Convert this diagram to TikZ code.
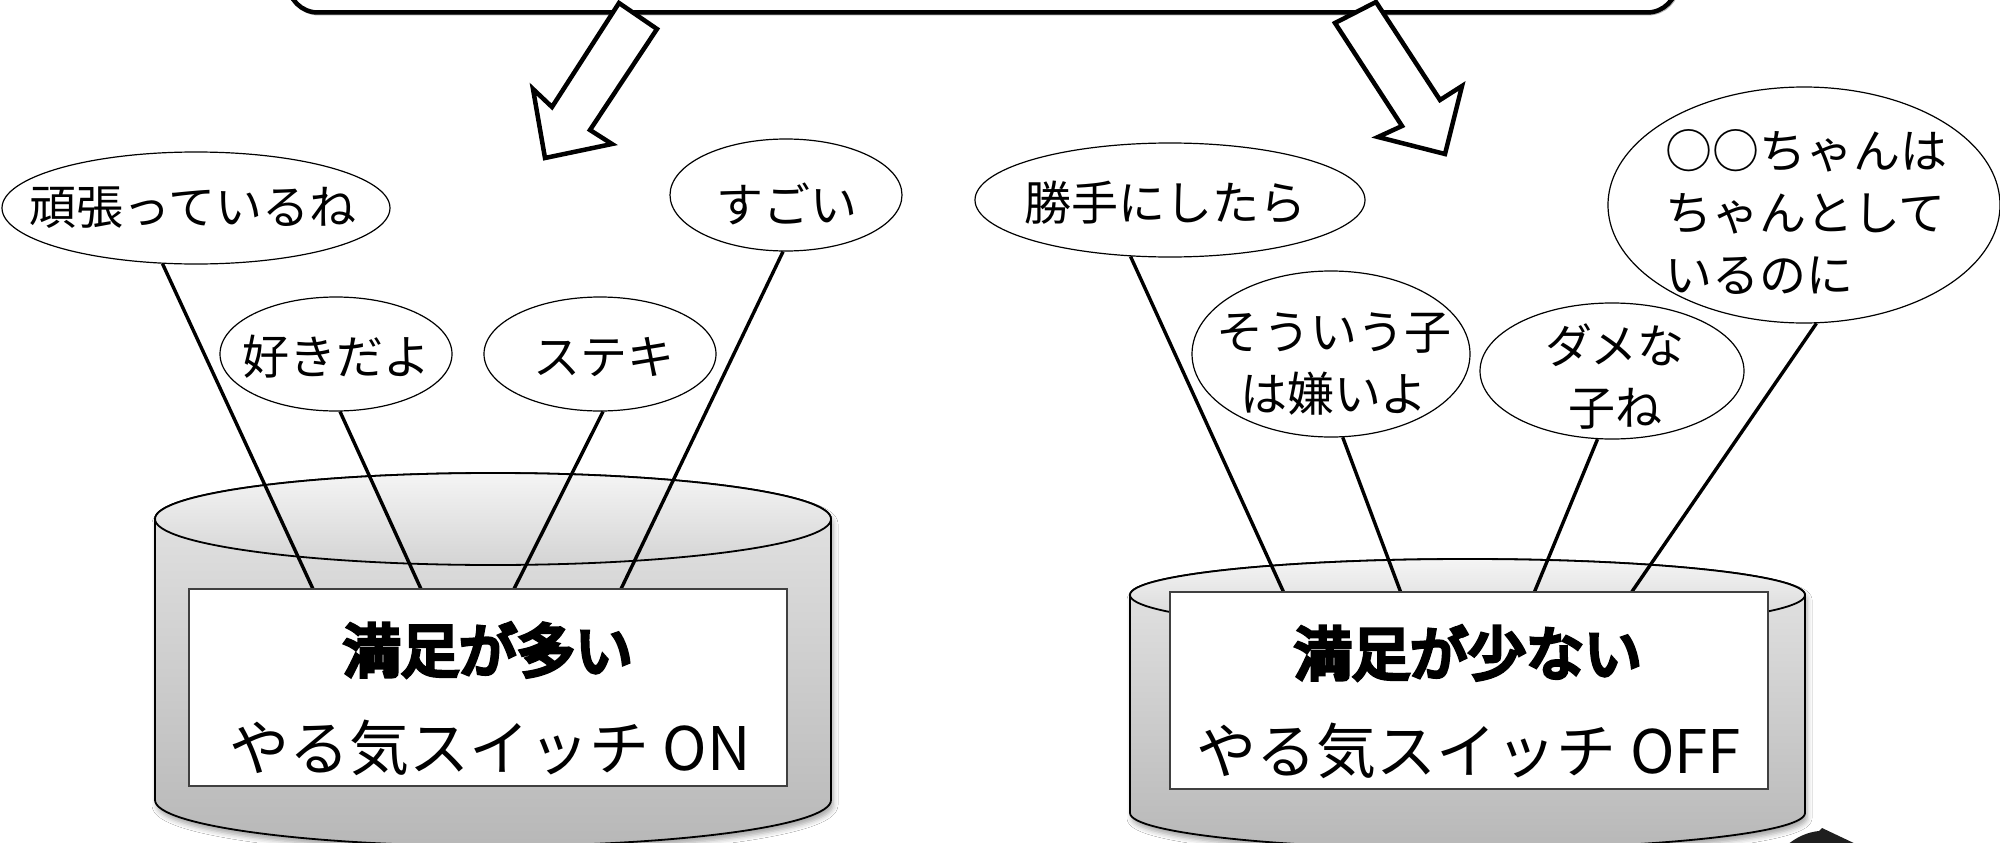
\documentclass[tikz,border=0pt]{standalone}
\usepackage{fontspec}
\usetikzlibrary{shapes.geometric,shadows.blur}
\newfontfamily\jp{Noto Sans CJK JP}
\newfontfamily\jpheavy[FakeBold=7]{Noto Sans CJK JP}
\definecolor{cylT}{gray}{0.90}
\definecolor{cylB}{gray}{0.72}
\definecolor{ellT}{gray}{0.96}
\definecolor{ellB}{gray}{0.83}
\begin{document}
\begin{tikzpicture}[x=1pt,y=-1pt,
  bubble/.style={ellipse, draw, line width=1.2pt, fill=white, inner sep=0pt},
  btxt/.style={inner sep=0pt, font=\jp\fontsize{47pt}{62pt}\selectfont, align=center},
  conn/.style={line width=3.4pt},
  cylline/.style={draw=black, line width=1.8pt},
  labelbox/.style={rectangle, draw=black!75, line width=1.3pt, fill=white, inner sep=0pt, minimum width=598pt, minimum height=197pt},
  ltitle/.style={inner sep=0pt, font=\jpheavy\fontsize{58pt}{60pt}\selectfont},
  lsub/.style={inner sep=0pt, font=\jp\fontsize{60pt}{62pt}\selectfont},
  blockarrow/.style={draw=black, fill=white, line width=4.5pt, line join=miter},
  topbox/.style={rectangle, draw=black, line width=4.5pt, rounded corners=30pt, inner sep=0pt, minimum width=1389pt, minimum height=200pt}
]
\useasboundingbox (0,0) rectangle (2000,843);
\clip (0,0) rectangle (2000,843);
\fill[white] (0,0) rectangle (2000,843);

% top box and block arrows
\node[topbox, draw=black!30, line width=4pt] at (983.5,-86.5) {};
\node[topbox] (top) at (982.5,-87.5) {};
\draw[blockarrow] (619,3) -- (657,29) -- (590,130) -- (612,144) -- (545,158) -- (533,89) -- (552,107) -- cycle;
\draw[blockarrow] (1335,23) -- (1376,2) -- (1440,100) -- (1462,86) -- (1445,154) -- (1378,137) -- (1402,126) -- cycle;

% left cylinder
\path[cylline, top color=cylT, bottom color=cylB,
      blur shadow={shadow xshift=2pt, shadow yshift=-5pt, shadow blur radius=5pt, shadow opacity=35}]
  (155,519) -- (155,800) arc[start angle=180, end angle=360, x radius=338pt, y radius=46pt]
  -- (831,519) arc[start angle=0, end angle=180, x radius=338pt, y radius=46pt] -- cycle;
\path[cylline, top color=ellT, bottom color=ellB] (493,519) ellipse[x radius=338pt, y radius=46pt];

% right cylinder
\path[cylline, top color=cylT, bottom color=cylB,
      blur shadow={shadow xshift=2pt, shadow yshift=-5pt, shadow blur radius=5pt, shadow opacity=35}]
  (1130,595) -- (1130,813) arc[start angle=180, end angle=360, x radius=337.5pt, y radius=36pt]
  -- (1805,595) arc[start angle=0, end angle=180, x radius=337.5pt, y radius=36pt] -- cycle;
\path[cylline, top color=ellT, bottom color=ellB] (1467.5,595) ellipse[x radius=337.5pt, y radius=36pt];

% bubbles
\node[bubble, minimum width=388pt, minimum height=112pt] (e1) at (196,208) {};
\node[bubble, minimum width=232pt, minimum height=114pt] (e2) at (336,354) {};
\node[bubble, minimum width=232pt, minimum height=114pt] (e3) at (600,354) {};
\node[bubble, minimum width=232pt, minimum height=112pt] (e4) at (786,195) {};
\node[bubble, minimum width=390pt, minimum height=114pt] (r1) at (1170,200) {};
\node[bubble, minimum width=278pt, minimum height=166pt] (r2) at (1331,354) {};
\node[bubble, minimum width=264pt, minimum height=136pt] (r3) at (1612,371) {};
\node[bubble, minimum width=392pt, minimum height=236pt] (r4) at (1804,205) {};

\node[btxt] (t1) at (193,208) {頑張っているね};
\node[btxt] (t2) at (336,357) {好きだよ};
\node[btxt] (t3) at (604,357) {ステキ};
\node[btxt] (t4) at (787,204) {すごい};
\node[btxt] (s1) at (1165,203) {勝手にしたら};
\node[btxt] (s2) at (1334,364) {そういう子\\は嫌いよ};
\node[btxt] (s3) at (1615,377) {ダメな\\子ね};
\node[btxt, align=left] (s4) at (1806,212) {○○ちゃんは\\ちゃんとして\\いるのに};

% connector ends on the label boxes
\coordinate (p1) at (313,589);
\coordinate (p2) at (421,589);
\coordinate (p3) at (514,589);
\coordinate (p4) at (621,589);
\coordinate (q1) at (1284,593);
\coordinate (q2) at (1401,593);
\coordinate (q3) at (1534,593);
\coordinate (q4) at (1631,593);

\draw[conn] (e1.239) -- (p1);
\draw[conn] (e2.274) -- (p2);
\draw[conn] (e3.273) -- (p3);
\draw[conn] (e4.267) -- (p4);
\draw[conn] (r1.235) -- (q1);
\draw[conn] (r2.278) -- (q2);
\draw[conn] (r3.258) -- (q3);
\draw[conn] (r4.276) -- (q4);

% label boxes
\node[labelbox] (b1) at (488,687.5) {};
\node[ltitle] (b1a) at (488,650) {満足が多い};
\node[lsub] (b1b) at (490,748) {やる気スイッチ ON};
\node[labelbox] (b2) at (1469,690.5) {};
\node[ltitle] (b2a) at (1468,653) {満足が少ない};
\node[lsub] (b2b) at (1469,751) {やる気スイッチ OFF};

% partial dark shape at bottom right
\fill[black!88] (1786,846) .. controls (1796,837) and (1808,832) .. (1819,831) -- (1822,828) -- (1860,846) -- cycle;
\end{tikzpicture}
\end{document}
